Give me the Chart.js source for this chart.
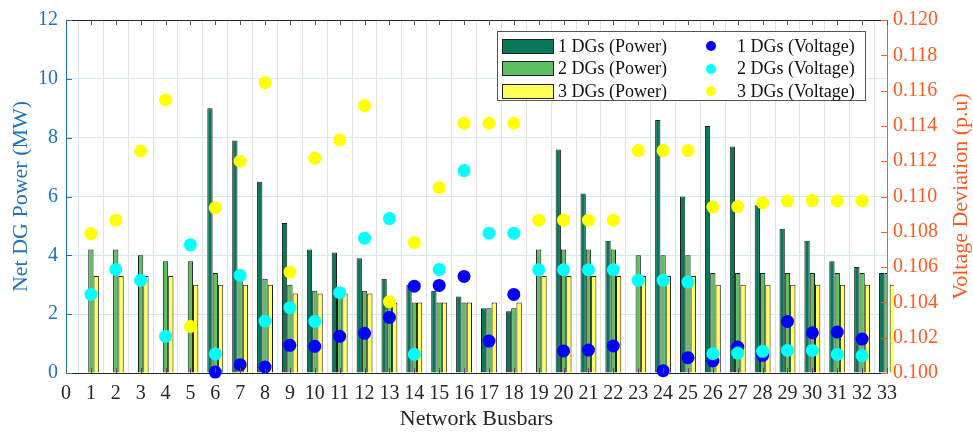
<!DOCTYPE html>
<html>
<head>
<meta charset="utf-8">
<script src="https://cdn.jsdelivr.net/npm/chart.js@4"></script>
<style>
  body { margin: 0; background: #fff; }
  #wrap { position: relative; width: 973px; height: 434px; }
  #legend {
    position: absolute; left: 497px; top: 31px; width: 369px; height: 70px;
    border: 1px solid #555; background: #fff; box-sizing: border-box;
    font-family: "Liberation Serif", "Times New Roman", serif; font-size: 18px; color: #111;
  }
  .item { position: absolute; display: flex; align-items: center; height: 22px; white-space: nowrap; }
  .box { width: 50px; height: 13px; border: 1px solid #222; margin-right: 4px; }
  .dot { width: 10px; height: 10px; border-radius: 50%; margin: 0 21px 0 5px; }
</style>
</head>
<body>
<div id="wrap">
  <canvas id="chart"></canvas>
  <div id="legend"></div>
</div>
<script>
const buses = ['0','1','2','3','4','5','6','7','8','9','10','11','12','13','14','15','16','17','18','19','20','21','22','23','24','25','26','27','28','29','30','31','32','33'];

// Net DG power (MW)
const power1 = [null,null,null,null,null,null,9.0,7.9,6.5,5.1,4.2,4.1,3.9,3.2,3.0,2.8,2.6,2.2,2.1,null,7.6,6.1,4.5,null,8.6,6.0,8.4,7.7,5.7,4.9,4.5,3.8,3.6,3.4];
const power2 = [null,4.2,4.2,4.0,3.8,3.8,3.4,3.4,3.2,3.0,2.8,2.8,2.8,2.6,2.4,2.4,2.4,2.2,2.2,4.2,4.2,4.2,4.2,4.0,4.0,4.0,3.4,3.4,3.4,3.4,3.4,3.4,3.4,3.4];
const power3 = [null,3.3,3.3,3.3,3.3,3.0,3.0,3.0,3.0,2.7,2.7,2.7,2.7,2.4,2.4,2.4,2.4,2.4,2.4,3.3,3.3,3.3,3.3,3.3,3.3,3.3,3.0,3.0,3.0,3.0,3.0,3.0,3.0,3.0];

// Voltage deviation (p.u)
const volt1 = [null,null,null,null,null,null,0.10005,0.10047,0.10034,0.10157,0.10151,0.10208,0.10225,0.10315,0.10492,0.10496,0.10547,0.10181,0.10445,null,0.10125,0.1013,0.10153,null,0.10013,0.10087,0.10068,0.10147,0.1010,0.10292,0.10228,0.10232,0.10192,null];
const volt2 = [null,0.10445,0.10587,0.10525,0.10208,0.10726,0.10108,0.10553,0.10294,0.1037,0.10292,0.10455,0.10764,0.10875,0.10106,0.10587,0.11147,0.10792,0.10792,0.10585,0.10585,0.10585,0.10585,0.10525,0.10525,0.10515,0.10109,0.10113,0.10123,0.10128,0.10128,0.10106,0.10098,null];
const volt3 = [null,0.1079,0.10866,0.11258,0.11547,0.10264,0.10936,0.1120,0.11645,0.10572,0.11217,0.1132,0.11515,0.10404,0.1074,0.1105,0.11415,0.11415,0.11415,0.10866,0.10866,0.10866,0.10866,0.1126,0.1126,0.1126,0.1094,0.10943,0.10964,0.10975,0.10977,0.10975,0.10975,null];

const leftTitle = 'Net DG Power (MW)';
const rightTitle = 'Voltage Deviation (p.u)';
const bottomTitle = 'Network Busbars';

const BLUE_AX = '#1a73bd';
const ORANGE_AX = '#ff5a1e';
const FONT = '"Liberation Serif", "Times New Roman", serif';

function bar(label, data, color, extra) {
  return Object.assign({
    type: 'bar', label, data, yAxisID: 'y',
    backgroundColor: color, borderColor: '#1c1c1c', borderWidth: 1,
    categoryPercentage: 0.64, barPercentage: 1.0, order: 3
  }, extra || {});
}

function dots(label, data, color, order) {
  return {
    type: 'line', label, data, yAxisID: 'y2', showLine: false,
    pointRadius: 6.5, pointHoverRadius: 6.5, pointBorderWidth: 0,
    pointBackgroundColor: color, borderColor: color, backgroundColor: color,
    clip: false, order
  };
}

// frame: top border, inward ticks, right title
const frame = {
  id: 'frame',
  afterDraw(chart) {
    const { ctx, chartArea: a, scales } = chart;
    ctx.save();
    ctx.lineWidth = 1;
    ctx.strokeStyle = '#262626';
    ctx.beginPath();
    ctx.moveTo(a.left, a.top + 0.5);
    ctx.lineTo(a.right, a.top + 0.5);
    ctx.stroke();

    ctx.strokeStyle = '#555';
    scales.x.ticks.forEach((t, i) => {
      const x = Math.round(scales.x.getPixelForTick(i)) + 0.5;
      ctx.beginPath();
      ctx.moveTo(x, a.top); ctx.lineTo(x, a.top + 5);
      ctx.moveTo(x, a.bottom); ctx.lineTo(x, a.bottom - 5);
      ctx.stroke();
    });

    ctx.strokeStyle = BLUE_AX;
    scales.y.ticks.forEach((t, i) => {
      const y = Math.round(scales.y.getPixelForTick(i)) + 0.5;
      ctx.beginPath(); ctx.moveTo(a.left, y); ctx.lineTo(a.left + 6, y); ctx.stroke();
    });
    ctx.strokeStyle = ORANGE_AX;
    scales.y2.ticks.forEach((t, i) => {
      const y = Math.round(scales.y2.getPixelForTick(i)) + 0.5;
      ctx.beginPath(); ctx.moveTo(a.right, y); ctx.lineTo(a.right - 6, y); ctx.stroke();
    });

    ctx.translate(961, (a.top + a.bottom) / 2);
    ctx.rotate(-Math.PI / 2);
    ctx.fillStyle = ORANGE_AX;
    ctx.font = '22px ' + FONT;
    ctx.textAlign = 'center';
    ctx.textBaseline = 'middle';
    ctx.fillText(rightTitle, 0, 0);
    ctx.restore();
  }
};

const chart = new Chart(document.getElementById('chart'), {
  data: {
    labels: buses,
    datasets: [
      bar('1 DGs (Power)', power1, '#08785a'),
      bar('2 DGs (Power)', power2, '#5cbf60'),
      bar('3 DGs (Power)', power3, '#ffff58', { clip: { left: 0, top: 0, right: 7, bottom: 0 } }),
      dots('1 DGs (Voltage)', volt1, '#0000ff', 2),
      dots('2 DGs (Voltage)', volt2, '#00ffff', 1),
      dots('3 DGs (Voltage)', volt3, '#ffff00', 0)
    ]
  },
  options: {
    responsive: true,
    maintainAspectRatio: false,
    animation: false,
    layout: { padding: { top: 19, left: 0, right: 0, bottom: 0 } },
    plugins: { legend: { display: false }, tooltip: { enabled: false } },
    scales: {
      x: {
        type: 'category',
        offset: false,
        grid: { color: '#e2e2e2', drawTicks: false },
        border: { color: '#262626' },
        ticks: { color: '#262626', font: { family: FONT, size: 20 }, padding: 9, maxRotation: 0, autoSkip: false },
        title: { display: true, text: bottomTitle, color: '#262626', font: { family: FONT, size: 22 }, padding: { top: 0, bottom: 2 } },
        afterFit(s) { s.height = 61; }
      },
      y: {
        position: 'left', min: 0, max: 12,
        grid: { color: '#d3eaf4', drawTicks: false },
        border: { color: BLUE_AX },
        ticks: { stepSize: 2, color: BLUE_AX, font: { family: FONT, size: 20 }, padding: 8 },
        title: { display: true, text: leftTitle, color: BLUE_AX, font: { family: FONT, size: 22 }, padding: { top: 8, bottom: 0 } },
        afterFit(s) { s.width = 66; }
      },
      y2: {
        position: 'right', min: 0.1, max: 0.12,
        grid: { display: false, drawTicks: false },
        border: { color: ORANGE_AX },
        ticks: { stepSize: 0.002, color: ORANGE_AX, font: { family: FONT, size: 20 }, padding: 6,
                 callback: v => Number(v).toFixed(3) },
        afterFit(s) { s.width = 86; }
      }
    }
  },
  plugins: [frame]
});

// legend built from the datasets, two columns inside the plot
const legend = document.getElementById('legend');
chart.data.datasets.forEach((ds, i) => {
  const col = i < 3 ? 0 : 1;
  const row = i % 3;
  const el = document.createElement('div');
  el.className = 'item';
  el.style.left = col === 0 ? '4px' : '203px';
  el.style.top = (3 + row * 22.5) + 'px';
  const mark = document.createElement('span');
  mark.className = ds.type === 'bar' ? 'box' : 'dot';
  mark.style.background = ds.type === 'bar' ? ds.backgroundColor : ds.pointBackgroundColor;
  const txt = document.createElement('span');
  txt.textContent = ds.label;
  el.appendChild(mark);
  el.appendChild(txt);
  legend.appendChild(el);
});
</script>
</body>
</html>
